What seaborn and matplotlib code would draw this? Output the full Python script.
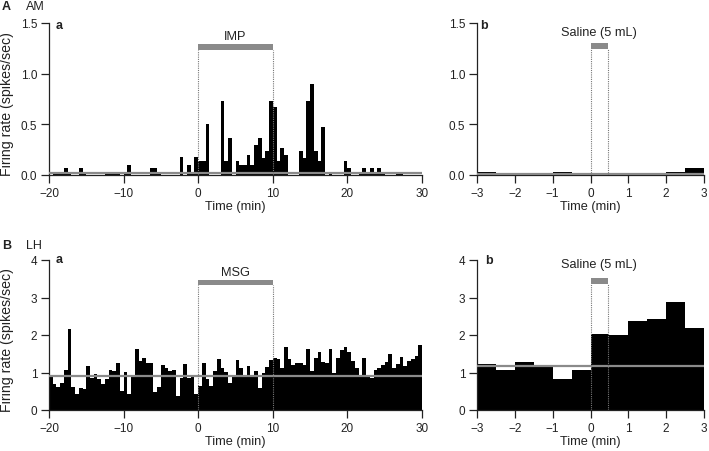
import numpy as np
import pandas as pd
import matplotlib
matplotlib.use("Agg")
import matplotlib.pyplot as plt
import seaborn as sns

sns.set_style("ticks")
plt.rcParams["font.family"] = ["Liberation Sans", "DejaVu Sans"]
plt.rcParams["font.size"] = 9

# ---------------- data ----------------
bin_width = 0.5
am_long_start, am_long_end = -20, 30
# A-a: AM neuron, IMP (rate per 0.5-min bin from -20 to 30 min)
am_imp_rate = [
    0, 0.033, 0.033, 0.033, 0.067, 0.033, 0, 0, 0.067, 0.033,
    0, 0, 0, 0, 0, 0.033, 0.033, 0.033, 0.033, 0,
    0.033, 0.10, 0, 0, 0, 0, 0, 0.067, 0.067, 0.033,
    0, 0, 0, 0, 0, 0.175, 0, 0.10, 0.033, 0.175,
    0.135, 0.135, 0.50, 0, 0, 0, 0.735, 0.135, 0.37, 0,
    0.135, 0.10, 0.10, 0.20, 0.10, 0.30, 0.37, 0.17, 0.24, 0.735,
    0.67, 0.135, 0.27, 0.20, 0, 0, 0, 0.235, 0.17, 0.735,
    0.90, 0.235, 0.135, 0.47, 0, 0.033, 0, 0, 0, 0.135,
    0.067, 0, 0, 0.033, 0.067, 0.033, 0.067, 0.033, 0.067, 0.033,
    0, 0, 0, 0.033, 0.033, 0, 0, 0, 0, 0,
]
am_imp_mean = 0.02

# A-b: AM neuron, saline (-3 to 3 min)
am_sal_rate = [0.033, 0, 0, 0, 0.033, 0, 0, 0, 0, 0, 0.033, 0.067]
am_sal_mean = 0.012

# B-a: LH neuron, MSG
lh_msg_rate = [
    0.89, 0.685, 0.61, 0.73, 1.06, 2.17, 0.61, 0.42, 0.58, 0.55,
    1.18, 0.86, 0.97, 0.82, 0.685, 0.82, 1.06, 1.04, 1.25, 0.51,
    1.01, 0.42, 0.89, 1.62, 1.31, 1.40, 1.26, 1.26, 0.48, 0.61,
    1.19, 1.11, 1.04, 1.06, 0.37, 0.86, 1.22, 0.86, 0.89, 0.44,
    0.64, 1.25, 0.84, 0.64, 1.04, 1.35, 1.13, 1.02, 0.73, 0.93,
    1.33, 1.11, 0.89, 1.18, 0.89, 1.05, 0.58, 1.00, 1.16, 1.33,
    1.40, 1.35, 1.11, 1.69, 1.35, 1.20, 1.25, 1.25, 1.19, 1.62,
    1.03, 1.40, 1.56, 1.28, 1.26, 1.62, 1.00, 1.38, 1.59, 1.69,
    1.56, 1.31, 1.13, 0.93, 1.38, 0.93, 0.86, 1.06, 1.11, 1.19,
    1.28, 1.49, 1.13, 1.22, 1.41, 1.17, 1.31, 1.37, 1.44, 1.73,
]
lh_msg_mean = 0.91

# B-b: LH neuron, saline
lh_sal_rate = [1.24, 1.07, 1.27, 1.20, 0.82, 1.06, 2.03, 1.99, 2.37, 2.43, 2.87, 2.19]
lh_sal_mean = 1.18

# stimulus periods (min)
imp_on, imp_off = 0, 10
msg_on, msg_off = 0, 10
sal_on, sal_off = 0, 0.47

# ---------------- styles ----------------
DARK = "#222222"
GRAY = "#8a8a8a"
W, H = 709, 452
TICK_FS = 8.5
LABEL_FS = 9.2


def make_df(rates, start):
    n = len(rates)
    centers = start + bin_width * (np.arange(n) + 0.5)
    return pd.DataFrame({"t": centers, "rate": rates}), (start, start + bin_width * n)


def panel(ax, rates, start, mean, xlim, ylim, yticks, xticks, stim, label,
          bar_y, bar_h, text_y, ytickfmt):
    df, brange = make_df(rates, start)
    sns.histplot(data=df, x="t", weights="rate", binwidth=bin_width,
                 binrange=brange, element="step", fill=True, color="black",
                 alpha=1, linewidth=0, ax=ax)
    ax.axhline(mean, color=GRAY, lw=1.6, zorder=5)
    on, off = stim
    ax.add_patch(plt.Rectangle((on, bar_y), off - on, bar_h, color=GRAY,
                               lw=0, zorder=6, clip_on=False))
    for xv in (on, off):
        ax.plot([xv, xv], [0, bar_y], ls=(0, (1, 1)), color="#777777",
                lw=0.8, zorder=6)
    ax.text((on + off) / 2, text_y, label, ha="center", va="center",
            fontsize=LABEL_FS, color=DARK)
    ax.set_xlim(*xlim)
    ax.set_ylim(*ylim)
    ax.set_xticks(xticks)
    ax.set_yticks(yticks)
    ax.set_yticklabels([ytickfmt.format(v) for v in yticks])
    ax.set_xlabel("Time (min)", labelpad=1, color=DARK, fontsize=LABEL_FS)
    ax.set_ylabel("")
    ax.tick_params(direction="out", length=5.5, width=0.9, pad=3,
                   colors=DARK, labelsize=TICK_FS)
    for s in ("top", "right"):
        ax.spines[s].set_visible(False)
    for s in ("left", "bottom"):
        ax.spines[s].set_color(DARK)
        ax.spines[s].set_linewidth(0.9)


fig = plt.figure(figsize=(W / 100, H / 100), dpi=100)


def add_ax(x0, y_top, x1, y_bot):
    return fig.add_axes([x0 / W, 1 - y_bot / H, (x1 - x0) / W, (y_bot - y_top) / H])


ax1 = add_ax(49, 24, 422, 176)
ax2 = add_ax(477, 24, 704, 176)
ax3 = add_ax(49, 261, 422, 411)
ax4 = add_ax(477, 261, 704, 411)

panel(ax1, am_imp_rate, am_long_start, am_imp_mean, (-20, 30), (0, 1.5),
      [0, 0.5, 1.0, 1.5], [-20, -10, 0, 10, 20, 30], (imp_on, imp_off), "IMP",
      1.23, 0.06, 1.375, "{:.1f}")
panel(ax2, am_sal_rate, -3, am_sal_mean, (-3, 3), (0, 1.5),
      [0, 0.5, 1.0, 1.5], [-3, -2, -1, 0, 1, 2, 3], (sal_on, sal_off),
      "Saline (5 mL)", 1.24, 0.06, 1.41, "{:.1f}")
panel(ax3, lh_msg_rate, am_long_start, lh_msg_mean, (-20, 30), (0, 4),
      [0, 1, 2, 3, 4], [-20, -10, 0, 10, 20, 30], (msg_on, msg_off), "MSG",
      3.33, 0.15, 3.69, "{:.0f}")
panel(ax4, lh_sal_rate, -3, lh_sal_mean, (-3, 3), (0, 4),
      [0, 1, 2, 3, 4], [-3, -2, -1, 0, 1, 2, 3], (sal_on, sal_off),
      "Saline (5 mL)", 3.36, 0.15, 3.88, "{:.0f}")

for ax in (ax1, ax3):
    ax.set_ylabel("Firing rate (spikes/sec)", color=DARK, fontsize=10.2)
    ax.yaxis.set_label_coords(-0.095, 0.47)


def ftext(x, y, s, **kw):
    fig.text(x / W, 1 - y / H, s, va="center", ha="left", color=DARK, **kw)


ftext(2, 7.5, "A", fontweight="bold", fontsize=9)
ftext(26, 7.5, "AM", fontsize=9)
ftext(2, 246, "B", fontweight="bold", fontsize=9)
ftext(26, 246, "LH", fontsize=9)
ftext(56, 26, "a", fontweight="bold", fontsize=9)
ftext(480, 26, "b", fontweight="bold", fontsize=9)
ftext(56, 260, "a", fontweight="bold", fontsize=9)
ftext(485, 261, "b", fontweight="bold", fontsize=9)

fig.savefig("out.png", dpi=100)
